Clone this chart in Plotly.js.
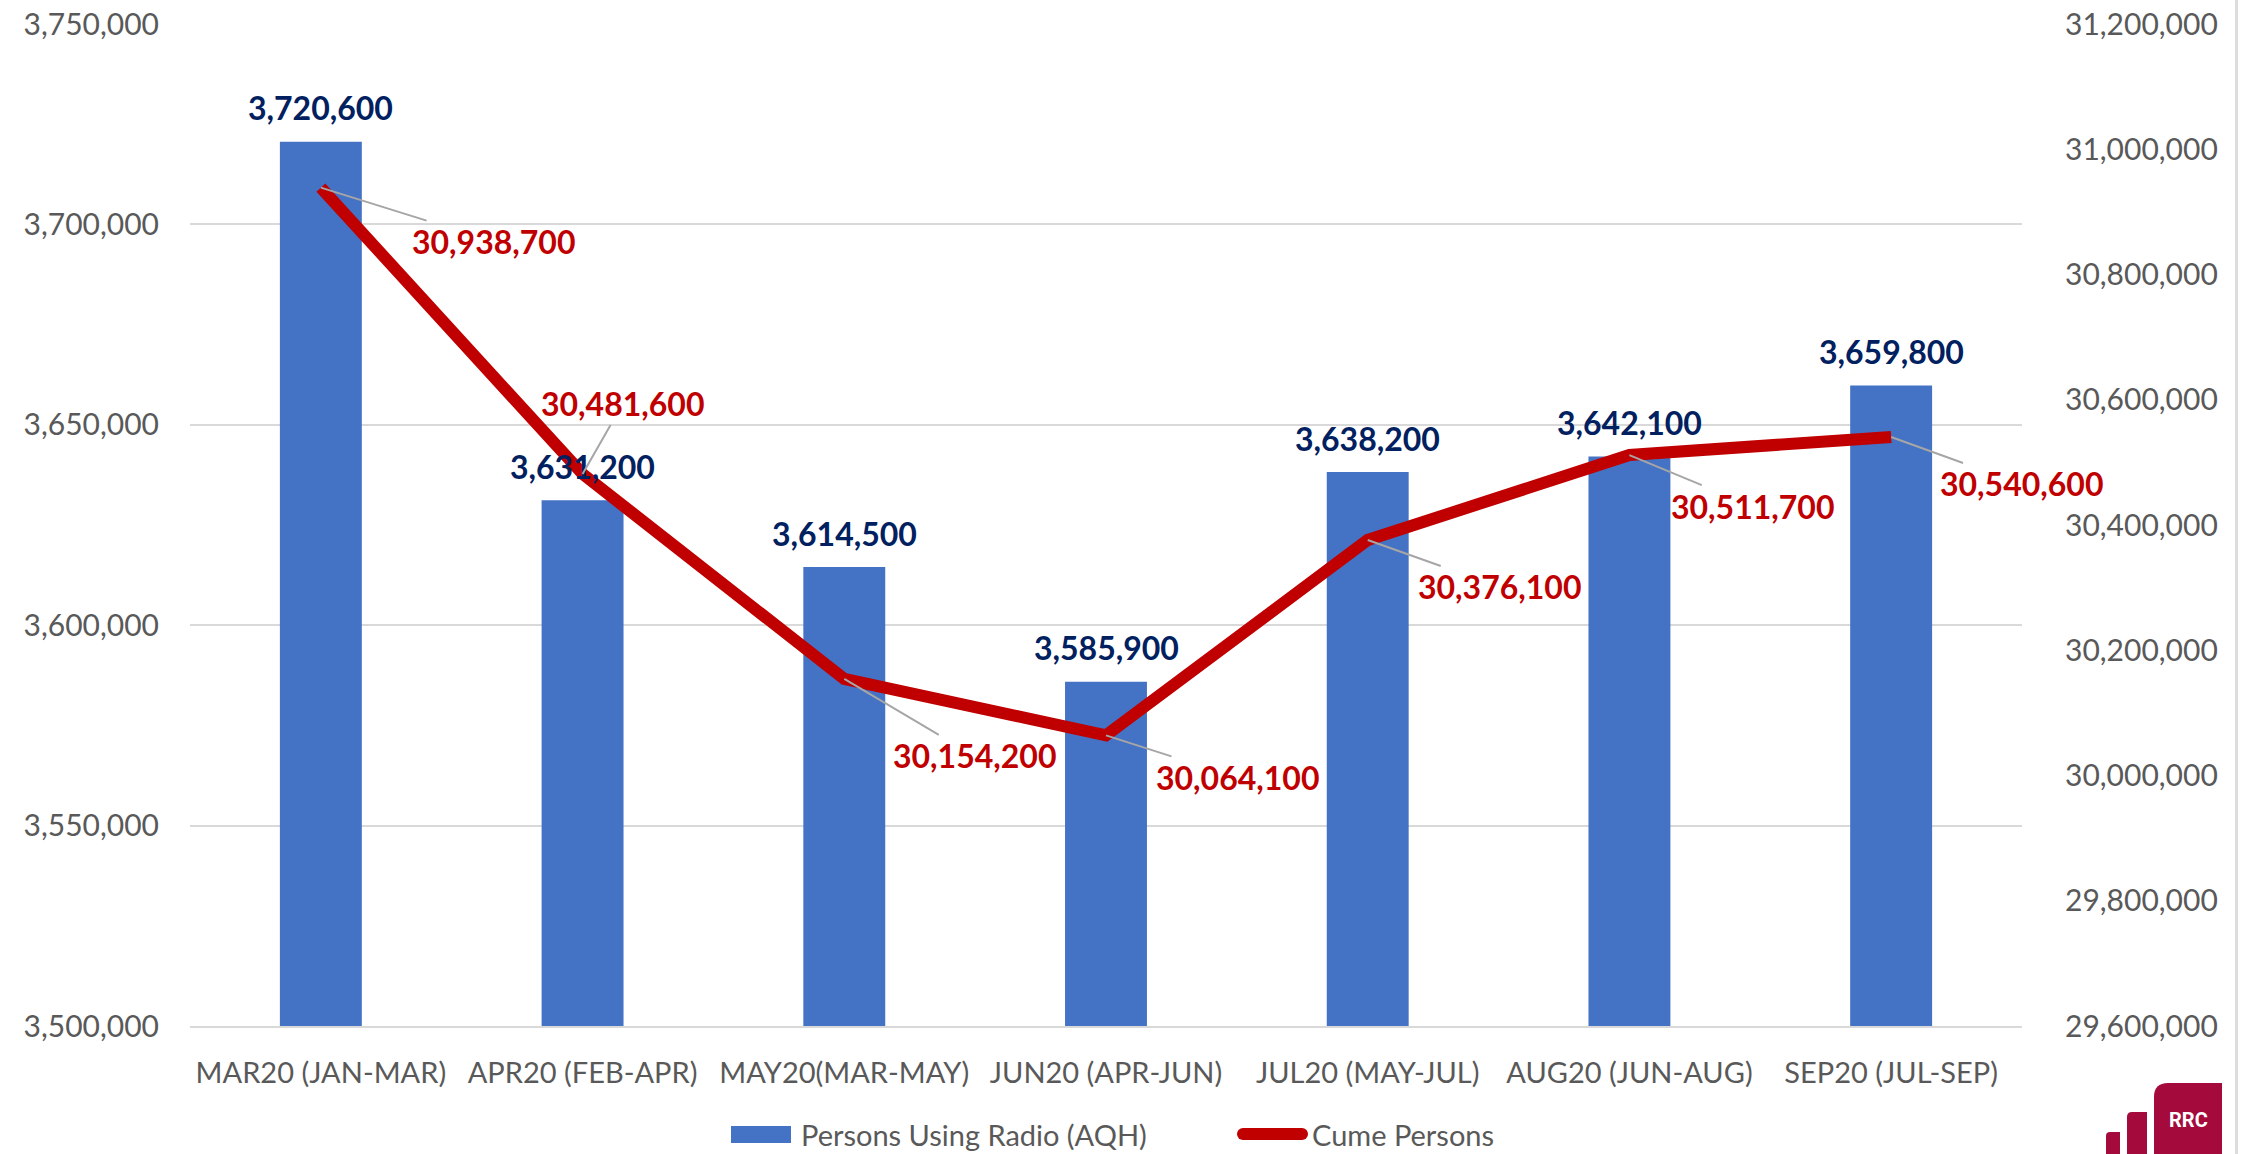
<!DOCTYPE html>
<html>
<head>
<meta charset="utf-8">
<script src="https://cdn.plot.ly/plotly-3.0.1.min.js"></script>
<style>
  html, body { margin: 0; padding: 0; background: #ffffff; }
  #chart { width: 2246px; height: 1154px; }
</style>
</head>
<body>
<div id="chart"></div>
<script>
// ---- data ----
const categories = ['MAR20 (JAN-MAR)', 'APR20 (FEB-APR)', 'MAY20(MAR-MAY)', 'JUN20 (APR-JUN)', 'JUL20 (MAY-JUL)', 'AUG20 (JUN-AUG)', 'SEP20 (JUL-SEP)'];
const personsUsingRadio = [3720600, 3631200, 3614500, 3585900, 3638200, 3642100, 3659800];
const cumePersons = [30938700, 30481600, 30154200, 30064100, 30376100, 30511700, 30540600];
const seriesNames = ['Persons Using Radio (AQH)', 'Cume Persons'];
const leftAxisRange = [3500000, 3750000];
const leftAxisStep = 50000;
const rightAxisRange = [29600000, 31200000];
const rightAxisStep = 200000;

// ---- label placement (pixel offsets of the cume labels from their points) ----
const cumeLabelOffsets = [[173, 54], [40, -70], [130, 77], [131, 42], [132, 47], [123, 51], [130, 47]];

// ---- geometry helpers (page pixels -> paper coords) ----
const W = 2246, H = 1154;
const M = { l: 190, r: 224, t: 24, b: 128 };
const PW = W - M.l - M.r, PH = H - M.t - M.b;
const px = x => (x - M.l) / PW;
const py = y => (H - M.b - y) / PH;

const FONT = 'Lato, "Open Sans", sans-serif';
const GREY = '#595959';
const BLUE = '#4472C4';
const RED = '#C00000';
const NAVY = '#002060';
const LOGO = '#A50A3C';

const fmt = v => v.toLocaleString('en-US');

const traces = [
  {
    type: 'bar',
    name: seriesNames[0],
    x: categories,
    y: personsUsingRadio,
    marker: { color: BLUE },
    yaxis: 'y',
    hoverinfo: 'x+y',
    showlegend: false
  },
  {
    type: 'scatter',
    mode: 'lines',
    name: seriesNames[1],
    x: categories,
    y: cumePersons,
    line: { color: RED, width: 12 },
    yaxis: 'y2',
    showlegend: false
  }
];

const annotations = [];
personsUsingRadio.forEach((v, i) => {
  annotations.push({
    x: categories[i], y: v, xref: 'x', yref: 'y',
    text: fmt(v), showarrow: false, yshift: 34,
    font: { family: FONT, size: 32, color: NAVY, weight: 'bold' }
  });
});
cumePersons.forEach((v, i) => {
  annotations.push({
    x: categories[i], y: v, xref: 'x', yref: 'y2',
    text: fmt(v), showarrow: true,
    ax: cumeLabelOffsets[i][0], ay: cumeLabelOffsets[i][1],
    arrowhead: 0, arrowwidth: 2, arrowcolor: '#A6A6A6', standoff: 0, startstandoff: 0,
    font: { family: FONT, size: 32, color: RED, weight: 'bold' }
  });
});

// legend text
annotations.push({
  xref: 'paper', yref: 'paper', x: px(799), y: py(1134), xanchor: 'left', yanchor: 'middle',
  text: seriesNames[0], showarrow: false, font: { family: FONT, size: 29, color: GREY }
});
annotations.push({
  xref: 'paper', yref: 'paper', x: px(1310), y: py(1134), xanchor: 'left', yanchor: 'middle',
  text: seriesNames[1], showarrow: false, font: { family: FONT, size: 29, color: GREY }
});
// logo text
annotations.push({
  xref: 'paper', yref: 'paper', x: px(2188), y: py(1120), xanchor: 'center', yanchor: 'middle',
  text: 'RRC', showarrow: false, font: { family: 'Roboto, sans-serif', size: 20, color: '#ffffff', weight: 'bold' }
});

const shapes = [
  // legend: bar swatch
  { type: 'rect', xref: 'paper', yref: 'paper', x0: px(731), x1: px(791), y0: py(1143), y1: py(1126),
    fillcolor: BLUE, line: { width: 0 } },
  // legend: line swatch (rounded)
  { type: 'rect', xref: 'paper', yref: 'paper', x0: px(1243), x1: px(1302), y0: py(1140), y1: py(1128),
    fillcolor: RED, line: { width: 0 } },
  { type: 'circle', xref: 'paper', yref: 'paper', x0: px(1237), x1: px(1249), y0: py(1140), y1: py(1128),
    fillcolor: RED, line: { width: 0 } },
  { type: 'circle', xref: 'paper', yref: 'paper', x0: px(1296), x1: px(1308), y0: py(1140), y1: py(1128),
    fillcolor: RED, line: { width: 0 } },
  // right border line of chart area
  { type: 'line', xref: 'paper', yref: 'paper', x0: px(2236.5), x1: px(2236.5), y0: py(0), y1: py(H),
    line: { color: '#DDDDDD', width: 3 } },
  // logo: big rounded square
  { type: 'path', xref: 'paper', yref: 'paper',
    path: 'M ' + px(2154) + ',' + py(1154) + ' L ' + px(2154) + ',' + py(1097) +
          ' Q ' + px(2154) + ',' + py(1083) + ' ' + px(2168) + ',' + py(1083) +
          ' L ' + px(2222) + ',' + py(1083) + ' L ' + px(2222) + ',' + py(1154) + ' Z',
    fillcolor: LOGO, line: { width: 0 } },
  // logo: small bars
  { type: 'path', xref: 'paper', yref: 'paper',
    path: 'M ' + px(2127) + ',' + py(1154) + ' L ' + px(2127) + ',' + py(1117) +
          ' Q ' + px(2127) + ',' + py(1112) + ' ' + px(2132) + ',' + py(1112) +
          ' L ' + px(2147) + ',' + py(1112) + ' L ' + px(2147) + ',' + py(1154) + ' Z',
    fillcolor: LOGO, line: { width: 0 } },
  { type: 'path', xref: 'paper', yref: 'paper',
    path: 'M ' + px(2106) + ',' + py(1154) + ' L ' + px(2106) + ',' + py(1136) +
          ' Q ' + px(2106) + ',' + py(1132) + ' ' + px(2110) + ',' + py(1132) +
          ' L ' + px(2120) + ',' + py(1132) + ' L ' + px(2120) + ',' + py(1154) + ' Z',
    fillcolor: LOGO, line: { width: 0 } }
];

const layout = {
  width: W, height: H,
  margin: M,
  paper_bgcolor: '#ffffff',
  plot_bgcolor: '#ffffff',
  font: { family: FONT, color: GREY },
  showlegend: false,
  bargap: 0.687,
  xaxis: {
    type: 'category',
    range: [-0.5, categories.length - 0.5],
    autorange: false,
    tickfont: { family: FONT, size: 29, color: GREY },
    showgrid: false, zeroline: false,
    showline: true, linecolor: '#D9D9D9', linewidth: 2,
    ticks: '', ticklabelstandoff: 20
  },
  yaxis: {
    range: leftAxisRange,
    autorange: false,
    tick0: leftAxisRange[0], dtick: leftAxisStep,
    tickformat: ',d',
    tickfont: { family: FONT, size: 30, color: GREY },
    showgrid: true, gridcolor: '#D9D9D9', gridwidth: 2,
    zeroline: false, showline: false,
    ticks: '', ticklabelstandoff: 30
  },
  yaxis2: {
    range: rightAxisRange,
    autorange: false,
    tick0: rightAxisRange[0], dtick: rightAxisStep,
    tickformat: ',d',
    overlaying: 'y', side: 'right',
    tickfont: { family: FONT, size: 30, color: GREY },
    showgrid: false, zeroline: false, showline: false,
    ticks: '', ticklabelstandoff: 42
  },
  annotations: annotations,
  shapes: shapes
};

Plotly.newPlot('chart', traces, layout, { displayModeBar: false, staticPlot: true });
</script>
</body>
</html>
